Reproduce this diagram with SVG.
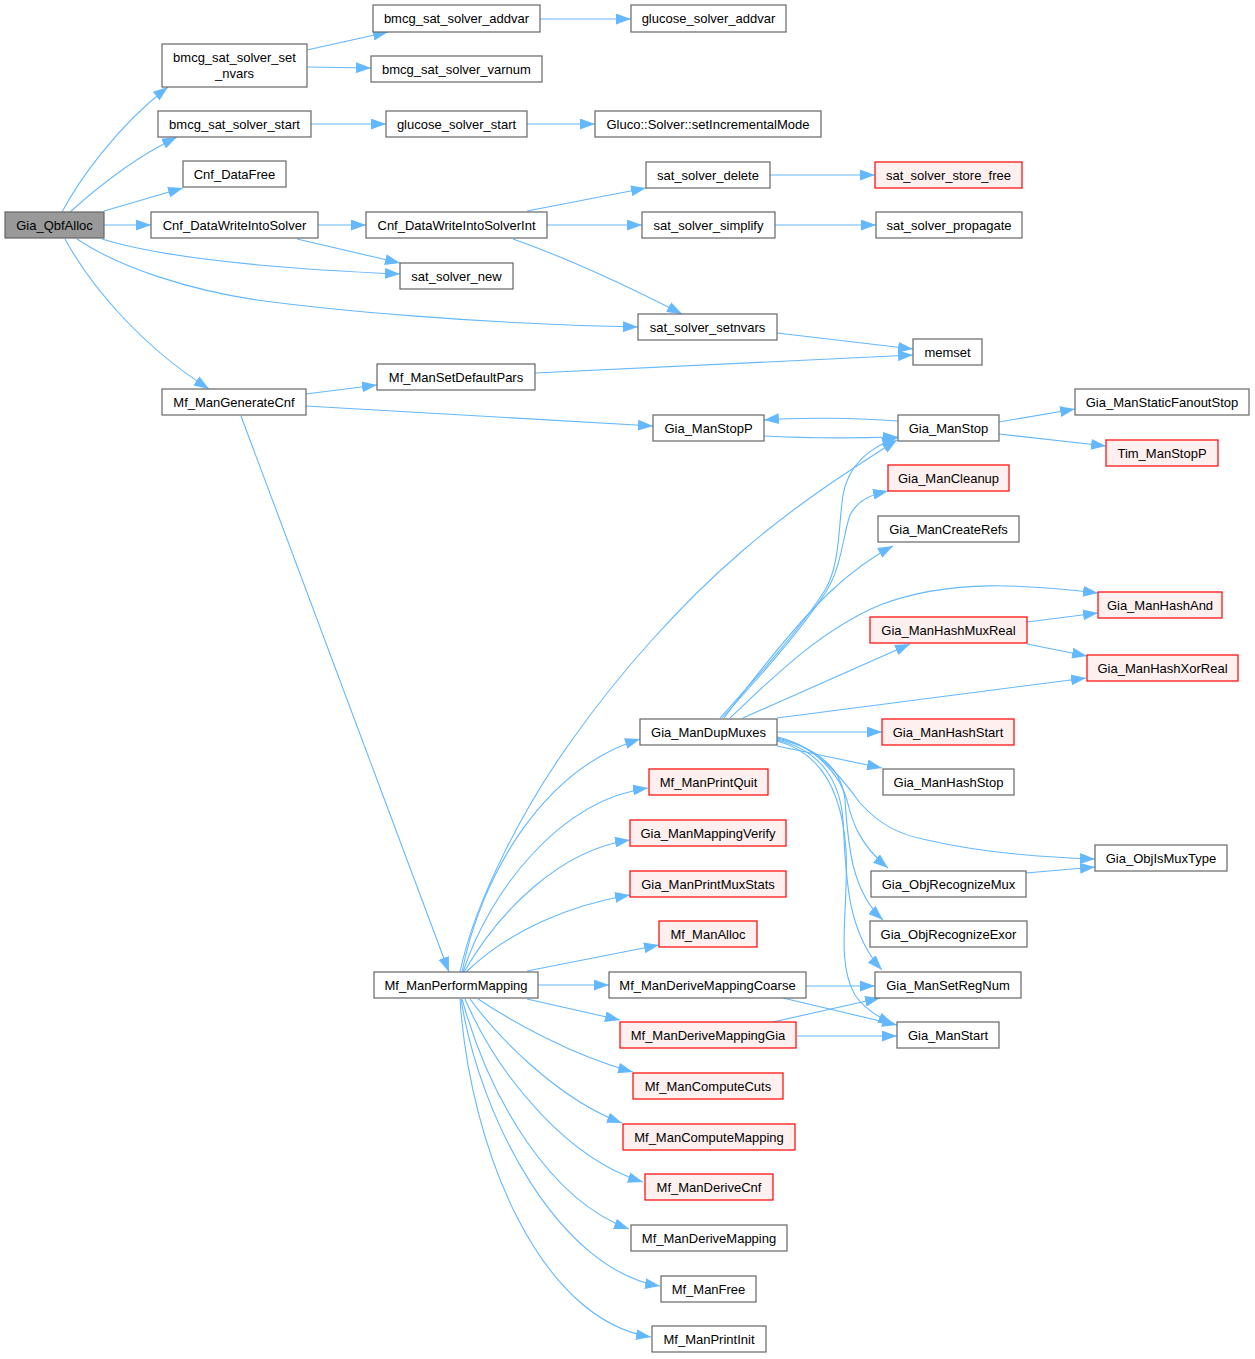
<svg xmlns="http://www.w3.org/2000/svg" width="1255" height="1359" viewBox="0 0 1255 1359">
<defs>
<marker id="ah" markerUnits="userSpaceOnUse" markerWidth="15" markerHeight="11" viewBox="0 0 14.5 10.5" refX="14.5" refY="5.25" orient="auto">
<path d="M0,0 L14.5,5.25 L0,10.5 z" fill="#63b8ff"/>
</marker>
</defs>
<style>
.n rect{fill:#ffffff;stroke:#666666;stroke-width:1.2}
.r rect{fill:#fff0f0;stroke:#ff0000;stroke-width:1.2}
.g rect{fill:#999999;stroke:#666666;stroke-width:1.2}
text{font-family:"Liberation Sans",Arial,sans-serif;font-size:13px;fill:#000;text-anchor:middle}
#edges path{fill:none;stroke:#63b8ff;stroke-width:1.1;marker-end:url(#ah)}
</style>
<rect width="1255" height="1359" fill="#ffffff"/>
<g id="edges">
<path d="M62,212 C78,182 115,128 168,87"/>
<path d="M70,212 C100,185 140,155 177,137"/>
<path d="M104,211 L183,188"/>
<path d="M104,225 L151,225"/>
<path d="M102,239 C160,257 260,268 400,274"/>
<path d="M77,239 C120,268 190,290 257,300 C330,310 480,324 638,327"/>
<path d="M65,239 C90,285 140,345 209,389"/>
<path d="M307,50 L388,32"/>
<path d="M307,67 L371,68"/>
<path d="M311,124 L386,124"/>
<path d="M540,19 L631,19"/>
<path d="M527,124 L595,124"/>
<path d="M318,225 L366,225"/>
<path d="M297,239 L400,263"/>
<path d="M527,211 L646,188"/>
<path d="M547,225 L642,225"/>
<path d="M513,239 C550,252 600,272 682,314"/>
<path d="M770,175 L875,175"/>
<path d="M775,225 L876,225"/>
<path d="M777,333 L913,349"/>
<path d="M535,373 L913,355"/>
<path d="M306,394 L377,385"/>
<path d="M306,406 L653,426"/>
<path d="M241,416 L449,972"/>
<path d="M764,436 C800,438 860,438 898,437"/>
<path d="M898,421 C860,418 800,417 764,420"/>
<path d="M999,422 L1075,409"/>
<path d="M999,434 L1106,446"/>
<path d="M460,972 C475,900 525,805 572,740 C620,672 680,605 740,553 C795,505 850,470 897,440"/>
<path d="M720,718 C750,685 800,630 825,590 C840,565 838,530 843,495 C848,465 870,447 897,438"/>
<path d="M722,718 C752,685 802,630 827,590 C842,565 843,535 850,515 C858,500 870,495 888,491"/>
<path d="M724,718 C760,670 800,620 830,592 C850,573 870,558 893,546"/>
<path d="M730,718 C770,680 820,630 880,605 C950,578 1030,585 1098,593"/>
<path d="M743,718 L910,644"/>
<path d="M777,718 L1086,678"/>
<path d="M777,732 L882,732"/>
<path d="M777,746 L882,768"/>
<path d="M777,737 C815,745 840,775 860,803 C880,825 900,835 927,840 C970,850 1030,857 1095,859"/>
<path d="M777,738 C815,745 840,775 847,800 C852,822 860,845 888,868"/>
<path d="M777,739 C820,748 842,770 845,800 C848,840 850,890 883,920"/>
<path d="M777,740 C820,750 840,780 843,820 C846,870 845,930 882,970"/>
<path d="M777,741 C820,752 842,790 846,850 C849,910 835,960 855,995 C865,1010 880,1018 893,1024"/>
<path d="M1026,873 L1095,867"/>
<path d="M1027,622 L1098,613"/>
<path d="M1027,644 L1087,656"/>
<path d="M462,972 C480,880 540,770 640,739"/>
<path d="M463,972 C490,890 560,800 648,788"/>
<path d="M464,972 C500,910 560,850 630,840"/>
<path d="M466,972 C510,930 570,905 630,895"/>
<path d="M527,971 L659,945"/>
<path d="M538,985 L609,985"/>
<path d="M527,999 L620,1020"/>
<path d="M478,999 C510,1020 570,1055 633,1072"/>
<path d="M470,999 C500,1040 560,1100 622,1123"/>
<path d="M465,999 C500,1080 570,1160 643,1182"/>
<path d="M462,999 C490,1100 550,1200 629,1229"/>
<path d="M461,999 C480,1120 560,1270 660,1286"/>
<path d="M460,999 C470,1150 540,1320 651,1337"/>
<path d="M806,986 L875,986"/>
<path d="M783,998 L897,1025"/>
<path d="M773,1022 L880,998"/>
<path d="M797,1036 L897,1036"/>
</g>
<g id="Gia_QbfAlloc" class="g"><rect x="5" y="212" width="99" height="26"/><text x="54.5" y="229.5">Gia_QbfAlloc</text></g>
<g id="bmcg_sat_solver_set_nvars" class="n"><rect x="162" y="44" width="145" height="43"/><text x="234.5" y="61.5">bmcg_sat_solver_set</text><text x="234.5" y="78">_nvars</text></g>
<g id="bmcg_sat_solver_start" class="n"><rect x="158" y="111" width="153" height="26"/><text x="234.5" y="128.5">bmcg_sat_solver_start</text></g>
<g id="Cnf_DataFree" class="n"><rect x="183" y="161" width="103" height="26"/><text x="234.5" y="178.5">Cnf_DataFree</text></g>
<g id="Cnf_DataWriteIntoSolver" class="n"><rect x="151" y="212" width="167" height="26"/><text x="234.5" y="229.5">Cnf_DataWriteIntoSolver</text></g>
<g id="Mf_ManGenerateCnf" class="n"><rect x="162" y="389" width="144" height="26"/><text x="234" y="406.5">Mf_ManGenerateCnf</text></g>
<g id="bmcg_sat_solver_addvar" class="n"><rect x="373" y="5" width="167" height="27"/><text x="456.5" y="23">bmcg_sat_solver_addvar</text></g>
<g id="bmcg_sat_solver_varnum" class="n"><rect x="371" y="56" width="171" height="26"/><text x="456.5" y="73.5">bmcg_sat_solver_varnum</text></g>
<g id="glucose_solver_start" class="n"><rect x="386" y="111" width="141" height="26"/><text x="456.5" y="128.5">glucose_solver_start</text></g>
<g id="Cnf_DataWriteIntoSolverInt" class="n"><rect x="366" y="212" width="181" height="26"/><text x="456.5" y="229.5">Cnf_DataWriteIntoSolverInt</text></g>
<g id="sat_solver_new" class="n"><rect x="400" y="263" width="113" height="26"/><text x="456.5" y="280.5">sat_solver_new</text></g>
<g id="Mf_ManSetDefaultPars" class="n"><rect x="377" y="364" width="158" height="26"/><text x="456" y="381.5">Mf_ManSetDefaultPars</text></g>
<g id="Mf_ManPerformMapping" class="n"><rect x="374" y="972" width="164" height="26"/><text x="456" y="989.5">Mf_ManPerformMapping</text></g>
<g id="glucose_solver_addvar" class="n"><rect x="631" y="5" width="155" height="27"/><text x="708.5" y="23">glucose_solver_addvar</text></g>
<g id="Gluco_Solver_setIncrementalMode" class="n"><rect x="595" y="111" width="226" height="26"/><text x="708" y="128.5">Gluco::Solver::setIncrementalMode</text></g>
<g id="sat_solver_delete" class="n"><rect x="646" y="162" width="124" height="26"/><text x="708" y="179.5">sat_solver_delete</text></g>
<g id="sat_solver_simplify" class="n"><rect x="642" y="212" width="133" height="26"/><text x="708.5" y="229.5">sat_solver_simplify</text></g>
<g id="sat_solver_setnvars" class="n"><rect x="638" y="314" width="139" height="26"/><text x="707.5" y="331.5">sat_solver_setnvars</text></g>
<g id="Gia_ManStopP" class="n"><rect x="653" y="415" width="111" height="26"/><text x="708.5" y="432.5">Gia_ManStopP</text></g>
<g id="Gia_ManDupMuxes" class="n"><rect x="640" y="719" width="137" height="26"/><text x="708.5" y="736.5">Gia_ManDupMuxes</text></g>
<g id="Mf_ManPrintQuit" class="r"><rect x="649" y="769" width="119" height="26"/><text x="708.5" y="786.5">Mf_ManPrintQuit</text></g>
<g id="Gia_ManMappingVerify" class="r"><rect x="630" y="820" width="156" height="26"/><text x="708" y="837.5">Gia_ManMappingVerify</text></g>
<g id="Gia_ManPrintMuxStats" class="r"><rect x="630" y="871" width="156" height="26"/><text x="708" y="888.5">Gia_ManPrintMuxStats</text></g>
<g id="Mf_ManAlloc" class="r"><rect x="659" y="921" width="98" height="26"/><text x="708" y="938.5">Mf_ManAlloc</text></g>
<g id="Mf_ManDeriveMappingCoarse" class="n"><rect x="609" y="972" width="197" height="26"/><text x="707.5" y="989.5">Mf_ManDeriveMappingCoarse</text></g>
<g id="Mf_ManDeriveMappingGia" class="r"><rect x="620" y="1022" width="176" height="26"/><text x="708" y="1039.5">Mf_ManDeriveMappingGia</text></g>
<g id="Mf_ManComputeCuts" class="r"><rect x="633" y="1073" width="150" height="26"/><text x="708" y="1090.5">Mf_ManComputeCuts</text></g>
<g id="Mf_ManComputeMapping" class="r"><rect x="623" y="1124" width="172" height="26"/><text x="709" y="1141.5">Mf_ManComputeMapping</text></g>
<g id="Mf_ManDeriveCnf" class="r"><rect x="645" y="1174" width="128" height="26"/><text x="709" y="1191.5">Mf_ManDeriveCnf</text></g>
<g id="Mf_ManDeriveMapping" class="n"><rect x="631" y="1225" width="156" height="26"/><text x="709" y="1242.5">Mf_ManDeriveMapping</text></g>
<g id="Mf_ManFree" class="n"><rect x="661" y="1276" width="95" height="26"/><text x="708.5" y="1293.5">Mf_ManFree</text></g>
<g id="Mf_ManPrintInit" class="n"><rect x="652" y="1326" width="114" height="26"/><text x="709" y="1343.5">Mf_ManPrintInit</text></g>
<g id="sat_solver_store_free" class="r"><rect x="875" y="162" width="147" height="26"/><text x="948.5" y="179.5">sat_solver_store_free</text></g>
<g id="sat_solver_propagate" class="n"><rect x="876" y="212" width="146" height="26"/><text x="949" y="229.5">sat_solver_propagate</text></g>
<g id="memset" class="n"><rect x="913" y="339" width="69" height="26"/><text x="947.5" y="356.5">memset</text></g>
<g id="Gia_ManStop" class="n"><rect x="898" y="415" width="101" height="26"/><text x="948.5" y="432.5">Gia_ManStop</text></g>
<g id="Gia_ManCleanup" class="r"><rect x="888" y="465" width="121" height="26"/><text x="948.5" y="482.5">Gia_ManCleanup</text></g>
<g id="Gia_ManCreateRefs" class="n"><rect x="878" y="516" width="141" height="26"/><text x="948.5" y="533.5">Gia_ManCreateRefs</text></g>
<g id="Gia_ManHashMuxReal" class="r"><rect x="870" y="617" width="157" height="26"/><text x="948.5" y="634.5">Gia_ManHashMuxReal</text></g>
<g id="Gia_ManHashStart" class="r"><rect x="882" y="719" width="132" height="26"/><text x="948" y="736.5">Gia_ManHashStart</text></g>
<g id="Gia_ManHashStop" class="n"><rect x="883" y="769" width="131" height="26"/><text x="948.5" y="786.5">Gia_ManHashStop</text></g>
<g id="Gia_ObjRecognizeMux" class="n"><rect x="871" y="871" width="155" height="26"/><text x="948.5" y="888.5">Gia_ObjRecognizeMux</text></g>
<g id="Gia_ObjRecognizeExor" class="n"><rect x="870" y="921" width="157" height="26"/><text x="948.5" y="938.5">Gia_ObjRecognizeExor</text></g>
<g id="Gia_ManSetRegNum" class="n"><rect x="875" y="972" width="146" height="26"/><text x="948" y="989.5">Gia_ManSetRegNum</text></g>
<g id="Gia_ManStart" class="n"><rect x="897" y="1022" width="102" height="26"/><text x="948" y="1039.5">Gia_ManStart</text></g>
<g id="Gia_ManStaticFanoutStop" class="n"><rect x="1075" y="389" width="174" height="26"/><text x="1162" y="406.5">Gia_ManStaticFanoutStop</text></g>
<g id="Tim_ManStopP" class="r"><rect x="1106" y="440" width="112" height="26"/><text x="1162" y="457.5">Tim_ManStopP</text></g>
<g id="Gia_ManHashAnd" class="r"><rect x="1098" y="592" width="124" height="26"/><text x="1160" y="609.5">Gia_ManHashAnd</text></g>
<g id="Gia_ManHashXorReal" class="r"><rect x="1087" y="655" width="151" height="26"/><text x="1162.5" y="672.5">Gia_ManHashXorReal</text></g>
<g id="Gia_ObjIsMuxType" class="n"><rect x="1095" y="845" width="132" height="26"/><text x="1161" y="862.5">Gia_ObjIsMuxType</text></g>
</svg>
